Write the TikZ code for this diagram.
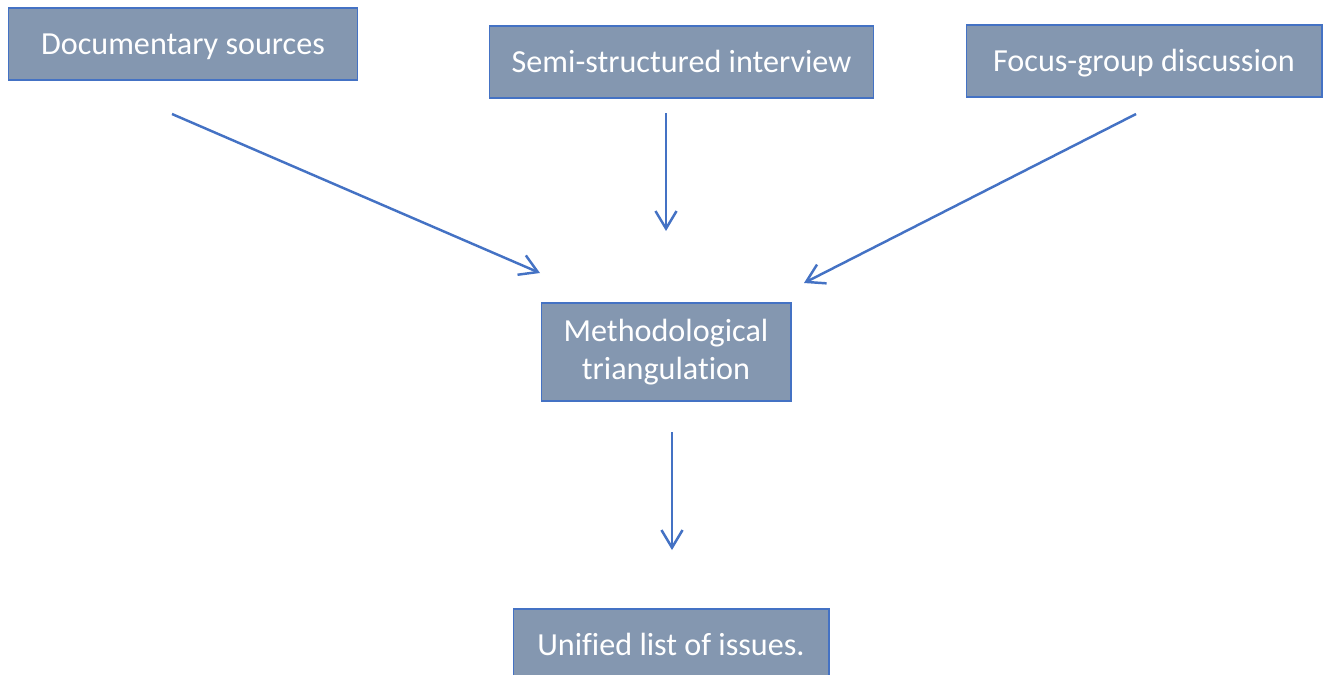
\documentclass[tikz,border=0pt]{standalone}
\usepackage{fontspec}
\setmainfont{Carlito}[Ligatures=NoCommon]
\usepackage{xcolor}
\usetikzlibrary{arrows.meta,positioning}

\definecolor{boxfill}{HTML}{8497B0}
\definecolor{boxline}{HTML}{4472C4}

\begin{document}
\begin{tikzpicture}[
    x=0.02cm, y=-0.02cm,
    source/.style={rectangle, draw=boxline, line width=0.6pt, fill=boxfill, minimum height=1.44cm, align=center, inner sep=0pt, text=white, font=\fontsize{18.3}{22}\selectfont},
    oneline/.style={text height=16pt, text depth=4.5pt},
    flow/.style={draw=boxline, line width=1.4pt, -{Straight Barb[length=10pt, width=12pt, line width=1.4pt]}},
]

\clip (0,0) rectangle (1329,674);

% Sources at top
\node[source, oneline, minimum width=7cm] (docs) at (183,44) {Documentary sources};
\node[source, oneline, minimum width=7.7cm] (interview) at (681.5,62) {Semi-structured interview};
\node[source, oneline, minimum width=7.12cm] (focus) at (1144,61) {Focus-group discussion};

% Triangulation and result
\node[source, minimum width=5cm, minimum height=1.96cm] (triang) at (666,352) {Methodological\\triangulation};
\node[source, oneline, minimum width=6.32cm] (issues) at (671,645) {Unified list of issues.};

% Free arrow ends
\coordinate (docs-out) at (172,114);
\coordinate (docs-in) at (540,273);
\coordinate (interview-out) at (666,113);
\coordinate (interview-in) at (666,231);
\coordinate (focus-out) at (1136,114);
\coordinate (focus-in) at (804,283);
\coordinate (triang-out) at (672,432);
\coordinate (triang-in) at (672,550);

\draw[flow] (docs-out) -- (docs-in);
\draw[flow] (interview-out) -- (interview-in);
\draw[flow] (focus-out) -- (focus-in);
\draw[flow] (triang-out) -- (triang-in);

\end{tikzpicture}
\end{document}
